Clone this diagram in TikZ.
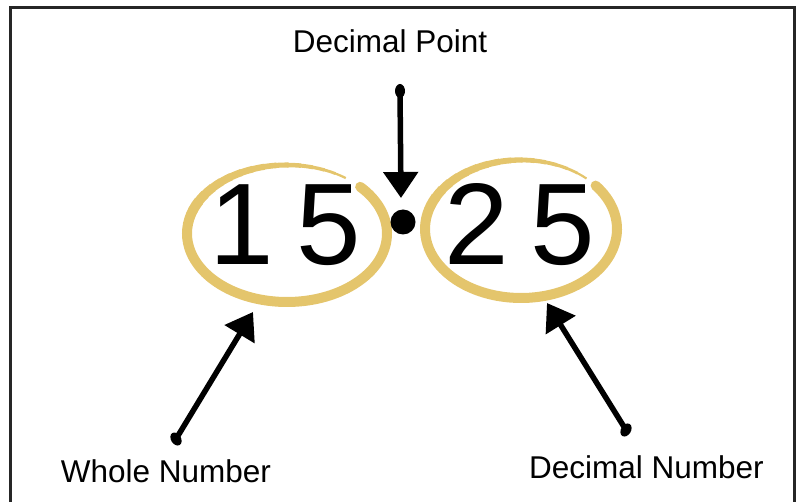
\documentclass[tikz,border=0pt]{standalone}
\usepackage{fontspec}
\setmainfont{Liberation Sans}
\usetikzlibrary{arrows.meta}
\definecolor{gold}{RGB}{228,197,108}
\tikzset{
  lbl/.style={font=\fontsize{31.5}{36}\selectfont, inner sep=0pt, anchor=base},
  digit/.style={font=\fontsize{116}{120}\selectfont, inner sep=0pt, anchor=base},
  pointer/.style={line width=5.5pt, -{Triangle[width=34pt,length=26pt]}},
  brush/.style={draw=gold},
}
\begin{document}
\begin{tikzpicture}[x=1pt,y=1pt]
\useasboundingbox (0,0) rectangle (800,-502);
% frame
\draw[line width=3pt, draw=black!85] (10,-560) -- (10,-8) -- (794,-8) -- (794,-560);

% left ellipse (brush)
\draw[brush, line width=10pt, line cap=round] (287,-233.5) ++(43:100 and 68.5) arc[start angle=43, end angle=-200, x radius=100, y radius=68.5];
\foreach \i in {0,...,14}{
  \pgfmathsetmacro{\sa}{-200-7*\i}
  \pgfmathsetmacro{\ea}{-200-7*\i-8}
  \pgfmathsetmacro{\lw}{10-0.55*\i}
  \draw[brush, line width=\lw pt] (287,-233.5) ++(\sa:100 and 68.5) arc[start angle=\sa, end angle=\ea, x radius=100, y radius=68.5];
}
% right ellipse (brush)
\draw[brush, line width=10pt, line cap=round] (521,-229) ++(39:96 and 69) arc[start angle=39, end angle=-200, x radius=96, y radius=69];
\foreach \i in {0,...,15}{
  \pgfmathsetmacro{\sa}{-200-7*\i}
  \pgfmathsetmacro{\ea}{-200-7*\i-8}
  \pgfmathsetmacro{\lw}{10-0.52*\i}
  \draw[brush, line width=\lw pt] (521,-229) ++(\sa:96 and 69) arc[start angle=\sa, end angle=\ea, x radius=96, y radius=69];
}

% digits
\node[digit] (d1) at (242,-265) {1};
\node[digit] (d2) at (328.5,-265) {5};
\node[digit] (d3) at (476.5,-265) {2};
\node[digit] (d4) at (562.5,-265) {5};
% decimal point
\fill (403,-222) circle[radius=12.5];
\coordinate (dot) at (401,-198);

% labels
\node[lbl] (lpoint) at (390,-53) {Decimal Point};
\node[lbl] (lwhole) at (166,-482) {Whole Number};
\node[lbl] (ldec) at (646.5,-478) {Decimal Number};

% arrow tails and tips
\coordinate (t1) at (400,-91);
\coordinate (t2) at (176,-439);
\coordinate (h2) at (253,-312);
\coordinate (t3) at (626,-430);
\coordinate (h3) at (547,-303);

\draw[pointer] (t1) -- (dot);
\draw[pointer] (t2) -- (h2);
\draw[pointer] (t3) -- (h3);
\fill (t1) ellipse[x radius=5, y radius=7];
\fill[rotate around={32:(t2)}] (t2) ellipse[x radius=5, y radius=7];
\fill[rotate around={-31:(t3)}] (t3) ellipse[x radius=5, y radius=7];
\end{tikzpicture}
\end{document}
